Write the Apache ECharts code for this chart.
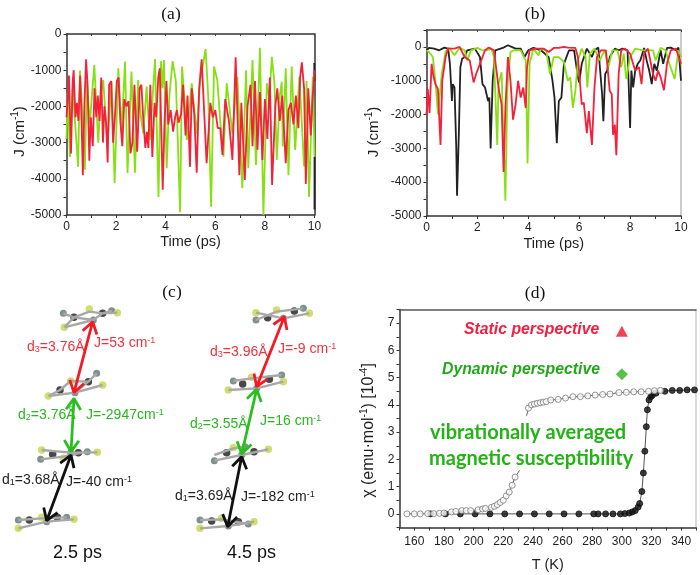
<!DOCTYPE html>
<html><head><meta charset="utf-8">
<style>html,body{margin:0;padding:0;background:#fff}#c{width:700px;height:575px}</style>
<script src="https://cdn.jsdelivr.net/npm/echarts@6/dist/echarts.min.js"></script>
</head><body><div id="c"></div>
<script>
// Panel (a): J vs time
const aGreen=[[0,-2900],[.05,-1600],[.14,-3400],[.25,-1400],[.33,-2300],[.47,-3670],[.54,-1010],[.62,-1900],[.74,-3750],[.82,-1300],[.94,-2470],[1.12,-850],[1.28,-3000],[1.38,-1700],[1.48,-1270],[1.65,-3020],[1.82,-1320],[1.94,-4120],[2.09,-950],[2.22,-2700],[2.36,-760],[2.46,-3840],[2.62,-1040],[2.76,-3830],[2.89,-1270],[3.0,-2300],[3.1,-2750],[3.23,-1450],[3.36,-2930],[3.57,-690],[3.71,-4500],[3.81,-750],[3.87,-1500],[3.93,-720],[4.04,-3710],[4.15,-1700],[4.28,-750],[4.41,-1300],[4.58,-4920],[4.66,-900],[4.75,-1700],[4.85,-2930],[5.05,-1360],[5.25,-2750],[5.38,-1360],[5.61,-415],[5.72,-1800],[5.83,-4770],[5.95,-900],[6.08,-1270],[6.2,-2400],[6.33,-3390],[6.46,-1360],[6.69,-2750],[6.89,-1180],[7.09,-4260],[7.24,-1000],[7.33,-3710],[7.5,-720],[7.64,-3620],[7.8,-380],[7.94,-5000],[8.08,-1360],[8.18,-1800],[8.28,-630],[8.38,-1300],[8.48,-3480],[8.6,-1700],[8.68,-1320],[8.72,-3110],[8.84,-950],[8.95,-3900],[9.08,-900],[9.22,-3200],[9.39,-1180],[9.58,-3660],[9.68,-1300],[9.78,-4500],[9.93,-1180],[10,-3390]];
const aRed=[[0,-2300],[.05,-1800],[.1,-1150],[.18,-3300],[.25,-1300],[.29,-1000],[.36,-2300],[.42,-1900],[.48,-2400],[.55,-1150],[.6,-2200],[.66,-3900],[.72,-2000],[.79,-700],[.85,-1400],[.92,-3500],[.98,-2300],[1.06,-3100],[1.13,-1500],[1.2,-2300],[1.26,-1700],[1.33,-2400],[1.4,-1200],[1.47,-3000],[1.53,-2000],[1.6,-2500],[1.66,-3550],[1.72,-1400],[1.8,-1300],[1.88,-3000],[1.95,-2300],[2.03,-1300],[2.1,-1200],[2.17,-2400],[2.25,-3100],[2.33,-1800],[2.42,-2000],[2.5,-1850],[2.58,-3300],[2.66,-3000],[2.74,-1400],[2.85,-3250],[2.95,-1500],[3.02,-1400],[3.1,-2400],[3.18,-3150],[3.24,-2700],[3.3,-3150],[3.38,-1400],[3.46,-3400],[3.55,-1900],[3.62,-2300],[3.7,-1200],[3.76,-950],[3.82,-2600],[3.88,-4300],[3.95,-2500],[4.03,-1300],[4.1,-2500],[4.2,-2100],[4.3,-2700],[4.38,-2300],[4.45,-2100],[4.52,-2450],[4.62,-2200],[4.7,-1400],[4.8,-2800],[4.88,-1700],[4.98,-3670],[5.05,-1500],[5.15,-2200],[5.25,-3830],[5.35,-1500],[5.45,-700],[5.52,-650],[5.65,-3570],[5.8,-1900],[5.9,-2300],[6.0,-2100],[6.1,-2600],[6.2,-2600],[6.29,-3340],[6.4,-1800],[6.55,-2400],[6.69,-3480],[6.82,-640],[6.97,-3900],[7.05,-1900],[7.19,-4030],[7.3,-2000],[7.42,-1400],[7.5,-3100],[7.6,-1300],[7.7,-3200],[7.8,-1600],[7.9,-3480],[8.0,-1800],[8.1,-2900],[8.2,-1200],[8.29,-4170],[8.42,-2000],[8.5,-1500],[8.6,-2400],[8.7,-1700],[8.84,-3570],[8.95,-2100],[9.05,-1900],[9.15,-2500],[9.25,-1700],[9.35,-2600],[9.42,-1200],[9.49,-780],[9.58,-1500],[9.65,-4140],[9.75,-1500],[9.85,-2800],[9.92,-1800],[10,-1000]];
const aBlackEdge=[[9.99,-800],[10,-1300],['-','-'],[10,-3400],[10,-4850]];
// Panel (b)
const bBlack=[[0,-100],[.1,-30],[.3,-50],[.5,-100],[.7,-20],[.85,-50],[.92,-500],[1.0,-1600],[1.03,-1100],[1.1,-1200],[1.17,-3000],[1.2,-4400],[1.27,-2600],[1.33,-600],[1.4,-350],[1.5,-300],[1.6,-100],[1.9,-50],[2.1,-300],[2.2,-1100],[2.3,-1200],[2.42,-1600],[2.47,-1500],[2.52,-3000],[2.6,-1000],[2.7,-100],[3.0,-30],[3.2,50],[3.5,-50],[3.7,-50],[3.85,-300],[4.0,-100],[4.2,-30],[4.5,-100],[4.8,-300],[4.95,-1000],[5.03,-1500],[5.12,-2850],[5.2,-1600],[5.3,-1500],[5.4,-500],[5.6,-100],[5.8,-100],[5.95,-900],[6,-1050],[6.1,-500],[6.3,-50],[6.5,-300],[6.6,-100],[6.75,-20],[6.9,-1400],[6.95,-2200],[7.02,-800],[7.1,-700],[7.2,-300],[7.4,-50],[7.55,-100],[7.7,-50],[7.9,-100],[8.0,-2400],[8.05,-700],[8.12,-1200],[8.2,-700],[8.3,-500],[8.4,-400],[8.55,-30],[8.65,-400],[8.75,-700],[8.85,-1100],[8.95,-500],[9.05,-700],[9.2,-100],[9.3,-500],[9.45,-30],[9.6,-20],[9.8,-100],[9.9,-20],[10,-1000]];
const bGreen=[[0,-100],[.1,-150],[.25,-300],[.35,-1000],[.45,-2000],[.52,-1950],[.6,-800],[.75,-150],[.9,-30],[1.1,-250],[1.3,-30],[1.5,-100],[1.6,-400],[1.75,-100],[2,-30],[2.2,-100],[2.4,-100],[2.55,-50],[2.65,-300],[2.78,-2900],[2.83,-1100],[2.95,-750],[3.1,-4550],[3.18,-1200],[3.3,-150],[3.45,-100],[3.7,-100],[3.9,-400],[3.97,-3450],[4.05,-500],[4.2,-50],[4.4,-250],[4.5,-50],[4.7,-100],[4.85,-800],[5.0,-300],[5.2,-300],[5.4,-450],[5.55,-1000],[5.65,-900],[5.75,-1800],[5.85,-1300],[5.95,-400],[6.1,-50],[6.25,-300],[6.32,-1200],[6.42,-200],[6.6,-50],[6.8,-400],[7,-100],[7.15,-600],[7.3,-100],[7.5,-100],[7.65,-600],[7.75,-200],[7.85,-950],[8,-300],[8.2,-50],[8.5,-100],[8.7,-100],[8.9,-100],[9.0,-400],[9.2,-30],[9.4,-100],[9.5,-400],[9.75,-950],[9.9,-100],[10,-300]];
const bRed=[[0,-2000],[.05,-1250],[.12,-1950],[.2,-500],[.28,-900],[.35,-1100],[.45,-1250],[.55,-2900],[.62,-1000],[.75,-300],[.85,-50],[1.1,-50],[1.3,0],[1.5,-300],[1.7,-400],[1.85,-1050],[1.95,-800],[2.1,-500],[2.3,-100],[2.45,-20],[2.65,-100],[2.75,-700],[2.85,-1300],[2.95,-1700],[3.03,-3700],[3.1,-1800],[3.2,-300],[3.3,-1000],[3.4,-2150],[3.5,-1700],[3.6,-1000],[3.7,-1500],[3.8,-1200],[3.9,-1800],[3.95,-600],[4.05,-100],[4.3,-50],[4.6,-50],[4.8,-150],[5,-30],[5.2,-30],[5.4,0],[5.55,-20],[5.85,-30],[5.95,-300],[6.1,-1700],[6.18,-1650],[6.3,-2550],[6.38,-1900],[6.5,-2900],[6.6,-1200],[6.7,-300],[6.85,-100],[7.05,-100],[7.2,-1300],[7.28,-1400],[7.33,-2600],[7.4,-2300],[7.46,-3200],[7.55,-800],[7.65,-100],[7.8,-50],[8.0,-200],[8.2,-700],[8.35,-600],[8.45,-1100],[8.55,-200],[8.7,-50],[8.9,-800],[9.0,-1000],[9.1,-700],[9.2,-900],[9.33,-1280],[9.45,-500],[9.6,-100],[9.8,-50],[10,-500]];
// Panel (d)
const dFilled=[[171,0],[181,0],[191,0],[201,0],[211,0],[221,0],[231,0],[241,0],[251,0],[261,0],[271,0],[281,0],[284,0],[289,0],[294,0],[299,0],[302,.01],[305,.03],[307,.07],[309,.12],[311,.25],[312,.38],[313.5,.82],[314.5,1.5],[315.5,2.3],[316.5,3.2],[317.2,3.82],[318.3,4.18],[319.5,4.3],[320.5,4.35],[323,4.43],[329,4.5],[334,4.53],[339,4.53],[344,4.55],[349,4.55]];
const dOpenLow=[[155,0],[160,0],[164,0],[169,.01],[173,.01],[177,.02],[180,.03],[185,.07],[188,.09],[192,.12],[195,.12],[198,.12],[203,.15],[206,.18],[208,.2],[212,.24],[214,.28],[216,.34],[218,.42],[220,.5],[222,.66],[224,.8],[226,1.05],[228,1.35]];
const dOpenHigh=[[237,3.88],[239,4.0],[241,4.03],[243,4.06],[245,4.08],[247,4.1],[249,4.12],[252,4.18],[257,4.2],[262,4.25],[267,4.3],[272,4.3],[277,4.33],[282,4.36],[287,4.38],[292,4.4],[298,4.45],[303,4.46],[308,4.48],[313,4.48],[318,4.5],[322,4.52],[326,4.53]];
const dTailLow=[[228,1.35],[231,1.6]];
const dTailHigh=[[235.7,3.6],[237,3.88]];
const dTriangle=[[300,6.7]];
const dDiamond=[[300,5.12]];
// Panel (c): stacked molecules, in scene units
const atomYellow=[[268,117],[193,172],[352,128],[145,378],[308,345],[212,333],[125,540],[292,547],[190,565],[55,775],[222,748],[125,742],[768,128],[928,130],[830,120],[685,360],[850,335],[755,322],[805,538],[700,533],[600,775],[762,755],[665,745]];
const atomGray=[[190,130],[280,150],[335,122],[290,310],[225,368],[122,568],[262,545],[212,548],[55,750],[200,742],[140,755],[768,150],[910,115],[850,145],[700,333],[845,315],[770,355],[643,572],[735,530],[725,555],[600,750],[745,762],[685,768]];
const atomBlack=[[222,142],[308,130],[180,360],[265,335],[158,553],[235,548],[88,750],[172,742],[803,143],[883,123],[728,342],[808,328],[680,548],[762,545],[635,753],[715,755]];
const bonds=[
 [[193,172],[222,142],[268,125],[308,130],[352,128]],[[190,130],[222,142],[280,150],[308,130],[335,122]],[[193,172],[280,150]],
 [[145,378],[225,368],[308,345]],[[145,378],[180,360],[212,333],[265,335],[290,310]],[[225,368],[265,335]],
 [[125,540],[212,548],[292,547]],[[122,568],[190,560],[262,545]],
 [[55,775],[140,755],[222,748]],[[55,750],[125,745],[200,742]],
 [[768,128],[850,145],[928,130]],[[768,150],[830,125],[910,115]],
 [[685,360],[770,355],[850,335]],[[700,333],[755,325],[845,315]],
 [[643,572],[725,555],[805,538]],[[643,555],[700,535],[735,530]],
 [[600,775],[685,768],[762,755]],[[600,750],[665,748],[745,762]]];
const arrowRed=[[[278,155],[222,368]],[[853,140],[770,350]]];
const arrowGreen=[[[222,385],[213,545]],[[770,358],[725,552]]];
const arrowBlack=[[[213,555],[140,752]],[[725,560],[683,770]]];

const RED='#f5203a', GREEN='#86e012', INK='#1e1e1e', FONT='"Liberation Sans",Arial,sans-serif';
const seq=(a,b,s)=>{const r=[];for(let v=a;v<=b+1e-9;v+=s)r.push(+v.toFixed(3));return r;};
const plain=v=>String(v);
function mainX(g,min,max,name,tick,label,gap,margin){return {gridIndex:g,type:'value',min,max,name,nameLocation:'middle',nameGap:gap,nameTextStyle:{fontSize:14.5,color:INK,fontFamily:FONT},
 axisLine:{onZero:false,lineStyle:{color:'#333',width:1.5}},axisTick:{length:3,lineStyle:{color:'#333'},customValues:tick},axisLabel:{fontSize:12,color:INK,fontFamily:FONT,margin:margin,formatter:plain,customValues:label,showMinLabel:true,showMaxLabel:true},splitLine:{show:false}};}
function mainY(g,min,max,name,tick,label,gap,pad){return {gridIndex:g,type:'value',min,max,name,nameLocation:'middle',nameGap:gap,nameRotate:90,nameTextStyle:{fontSize:15,color:INK,fontFamily:FONT,padding:[0,pad,0,0],rich:yName},
 axisLine:{onZero:false,lineStyle:{color:'#333',width:1.5}},axisTick:{length:3,lineStyle:{color:'#333'},customValues:tick},axisLabel:{fontSize:12,color:INK,fontFamily:FONT,margin:5,formatter:plain,customValues:label},splitLine:{show:false}};}
function mirrorX(g,min,max,tick,col){return {gridIndex:g,type:'value',position:'top',min,max,axisLine:{onZero:false,lineStyle:{color:col,width:1.5}},axisTick:{show:tick.length>0,inside:true,length:2,lineStyle:{color:'#444'},customValues:tick},axisLabel:{show:false},splitLine:{show:false}};}
function mirrorY(g,min,max,col){return {gridIndex:g,type:'value',position:'right',min,max,axisLine:{onZero:false,lineStyle:{color:col,width:1.5}},axisTick:{show:false},axisLabel:{show:false},splitLine:{show:false}};}
const yName={base:{fontSize:15,color:INK,fontFamily:FONT,lineHeight:18},big:{fontSize:16,color:INK,fontFamily:FONT,lineHeight:18},sp:{fontSize:10,color:INK,fontFamily:FONT,verticalAlign:'top',lineHeight:18}};
const line=(x,y,data,color,width)=>({type:'line',xAxisIndex:x,yAxisIndex:y,data,showSymbol:false,symbol:'none',smooth:false,connectNulls:false,animation:false,silent:true,lineStyle:{color,width}});
const flatten=segs=>{const r=[];segs.forEach((s,i)=>{if(i)r.push(['-','-']);s.forEach(p=>r.push(p));});return r;};
function head(tip,from){const dx=from[0]-tip[0],dy=from[1]-tip[1],L=Math.hypot(dx,dy),ux=dx/L,uy=dy/L,l=34,w=22;
 return [[tip[0]+ux*l-uy*w,tip[1]+uy*l+ux*w],tip,[tip[0]+ux*l+uy*w,tip[1]+uy*l-ux*w]];}
const arrows=list=>flatten(list.flatMap(([a,b])=>[[a,b],head(a,b),head(b,a)]));
const atoms=(data,color,size)=>({type:'scatter',xAxisIndex:8,yAxisIndex:8,data,symbol:'circle',symbolSize:size,itemStyle:{color,borderWidth:0},animation:false,silent:true});
const d3=(xi,data,fill,stroke)=>({type:'scatter',xAxisIndex:xi,yAxisIndex:xi,data,symbol:'circle',symbolSize:6,itemStyle:{color:fill,borderColor:stroke,borderWidth:1},animation:false,silent:true,z:4});
const txt=(x,y,text,color,extra)=>({type:'text',left:x,top:y,silent:true,style:Object.assign({text,fill:color,font:'14px '+FONT,rich:{sup:{fontSize:9,fill:color,verticalAlign:'top',lineHeight:15,fontFamily:FONT},sub:{fontSize:9,fill:color,verticalAlign:'bottom',lineHeight:15,fontFamily:FONT},b:{fontSize:14,fill:color,lineHeight:15,fontFamily:FONT}}},extra||{})});
const lab=(x,y,d,n,rest,color)=>txt(x,y,`{b|d}{sub|${n}}{b|${rest}}`,color);
const lab2=(x,y,s,color,sup)=>txt(x,y,sup?`{b|${s}}{sup|-1}`:`{b|${s}}`,color);
const ticksAx=seq(0,10,1), labelAx=seq(0,10,2);
const ticksAy=seq(-5000,0,500), labelAy=seq(-5000,0,1000);
const ticksBy=seq(-5000,500,500), labelBy=seq(-5000,0,1000);
const ticksDx=seq(150,350,10), labelDx=seq(160,340,20);
const ticksDy=seq(-.5,7.5,.5), labelDy=seq(0,7,1);
const titleAt=(x,y,text)=>({text,left:x,top:y,textAlign:'center',textStyle:{fontFamily:'"Liberation Serif",serif',fontWeight:'normal',fontSize:17.5,color:'#111'}});
const chart=echarts.init(document.getElementById('c'),null,{width:700,height:575});
chart.setOption({
 animation:false,backgroundColor:'#fff',
 title:[titleAt(166,0,'(a)'),titleAt(530,0,'(b)'),titleAt(167,278,'(c)'),titleAt(530,279,'(d)')],
 grid:[{left:66.5,top:34,width:248,height:181},{left:426.5,top:30,width:254.5,height:186},{left:399.5,top:309.5,width:296.5,height:218},{left:0,top:270,width:330,height:305},{show:false,left:0,top:270,width:330,height:305}],
 xAxis:[
  mainX(0,0,10,'Time (ps)',ticksAx,labelAx,19,6), mirrorX(0,0,10,ticksAx,'#333'),
  mainX(1,0,10,'Time (ps)',ticksAx,labelAx,20,6), mirrorX(1,0,10,ticksAx,'#444'),
  mainX(2,150,350,'T (K)',ticksDx,labelDx,30,8), mirrorX(2,150,350,[],'#555'),
  {gridIndex:3,show:false,min:0,max:990},{gridIndex:3,show:false,min:0,max:990},
  {gridIndex:3,type:'value',show:false,min:0,max:990}],
 yAxis:[
  mainY(0,-5000,0,'{base|J (cm}{sp|-1}{base|)}',ticksAy,labelAy,38,14), mirrorY(0,-5000,0,'#333'),
  mainY(1,-5000,500,'{base|J (cm}{sp|-1}{base|)}',ticksBy,labelBy,44,18), mirrorY(1,-5000,500,'#bbb'),
  mainY(2,-.5,7.5,'{big|χ (emu·mol}{sp|-1}{big|) [10}{sp|-4}{big|]}',ticksDy,labelDy,22,24), mirrorY(2,-.5,7.5,'#ccc'),
  {gridIndex:3,show:false,min:0,max:915,inverse:true},{gridIndex:3,show:false,min:0,max:915,inverse:true},
  {gridIndex:3,type:'value',show:false,min:0,max:915,inverse:true}],
 series:[
  line(0,0,aBlackEdge,'#222',1.8), line(0,0,aGreen,GREEN,1.8), line(0,0,aRed,RED,1.8),
  line(2,2,bBlack,'#222',1.8), line(2,2,bGreen,GREEN,1.8), line(2,2,bRed,RED,1.8),
  line(4,4,dFilled,'#555',1), line(4,4,dOpenLow,'#666',1), line(4,4,dOpenHigh,'#666',1), line(4,4,dTailLow,'#666',1), line(4,4,dTailHigh,'#666',1),
  d3(4,dFilled,'#111','#111'), d3(4,dOpenLow,'#fff','#777'), d3(4,dOpenHigh,'#fff','#777'),
  {type:'scatter',xAxisIndex:4,yAxisIndex:4,data:dTriangle,symbol:'triangle',symbolSize:[12,11],itemStyle:{color:'#f01428'},animation:false,silent:true},
  {type:'scatter',xAxisIndex:4,yAxisIndex:4,data:dDiamond,symbol:'diamond',symbolSize:12,itemStyle:{color:'#2fb01a'},animation:false,silent:true},
  line(8,8,flatten(bonds),'#a8a8a8',2.4),
  atoms(atomGray,'#5f7474',7), atoms(atomYellow,'#c6d64a',7.5), atoms(atomBlack,'#1a1a1a',7.5),
  line(8,8,arrows(arrowBlack),'#111',2.8), line(8,8,arrows(arrowGreen),'#27c01e',2.8), line(8,8,arrows(arrowRed),'#f41c24',2.8)
 ],
 graphic:[
  lab(27,340,'d','3','=3.76Å','#f0323c'), lab2(94,336,'J=53 cm','#f0323c',true),
  lab(18,408,'d','2','=3.76Å','#2bb520'), lab2(86,408,'J=-2947cm','#2bb520',true),
  lab(2,473,'d','1','=3.68Å','#222'), lab2(66,475,'J=-40 cm','#222',true),
  lab(210,345,'d','3','=3.96Å','#f0323c'), lab2(278,342,'J=-9 cm','#f0323c',true),
  lab(190,417,'d','2','=3.55Å','#2bb520'), lab2(260,414,'J=16 cm','#2bb520',true),
  lab(175,489,'d','1','=3.69Å','#222'), lab2(241,490,'J=-182 cm','#222',true),
  txt(53,544,'2.5 ps','#111',{font:'18px '+FONT}), txt(227,544,'4.5 ps','#111',{font:'18px '+FONT}),
  txt(464,322,'Static perspective','#f02040',{font:'italic bold 15.8px '+FONT}),
  txt(442,362,'Dynamic perspective','#22a818',{font:'italic bold 15.8px '+FONT}),
  txt(430,423,'vibrationally averaged','#22b414',{font:'bold 20px Lato,sans-serif'}),
  txt(429,449,'magnetic susceptibility','#22b414',{font:'bold 20px Lato,sans-serif'})
 ]
});
</script></body></html>
